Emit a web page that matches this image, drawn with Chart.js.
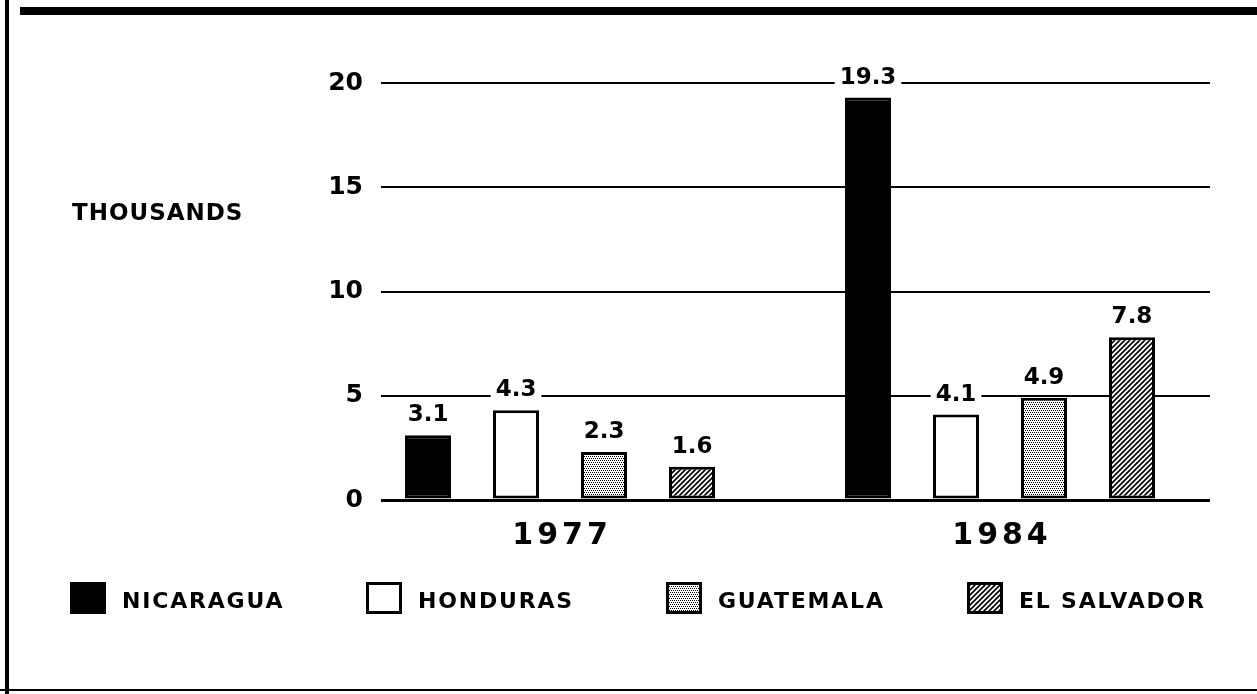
<!DOCTYPE html>
<html>
<head>
<meta charset="utf-8">
<script src="https://cdn.jsdelivr.net/npm/chart.js@4"></script>
<style>
  html, body { margin: 0; padding: 0; background: #fff; }
  canvas { display: block; }
</style>
</head>
<body>
<canvas id="c" width="1257" height="694"></canvas>
<script>
// ---------- data ----------
const categories = ['1977', '1984'];
const seriesNames = ['NICARAGUA', 'HONDURAS', 'GUATEMALA', 'EL SALVADOR'];
const nicaragua  = [3.1, 19.3];
const honduras   = [4.3, 4.1];
const guatemala  = [2.3, 4.9];
const elSalvador = [1.6, 7.8];
const yTicks = [0, 5, 10, 15, 20];
const axisTitle = 'THOUSANDS';

// ---------- layout / style constants ----------
const FONT = '"DejaVu Sans", sans-serif';
const LAYOUT = {
  legendBoxX: [70, 366, 666, 967],
  legendBoxY: 582, boxW: 36, boxH: 32, textGap: 16, legendBaseline: 608,
  titleX: 72, titleBaseline: 220,
  xMin: 1974.152, xMax: 1987.341
};

function stipplePattern() {
  const c = document.createElement('canvas'); c.width = 4; c.height = 4;
  const g = c.getContext('2d');
  g.fillStyle = '#fff'; g.fillRect(0, 0, 4, 4);
  g.fillStyle = '#000';
  [[0,0],[2,0],[1,2],[3,2]].forEach(([x, y]) => g.fillRect(x, y, 1, 1));
  return g.createPattern(c, 'repeat');
}
function hatchPattern() {
  const s = 5;
  const c = document.createElement('canvas'); c.width = s; c.height = s;
  const g = c.getContext('2d');
  g.fillStyle = '#fff'; g.fillRect(0, 0, s, s);
  g.strokeStyle = '#000'; g.lineWidth = 1.7;
  g.beginPath();
  g.moveTo(-1, s + 1); g.lineTo(s + 1, -1);
  g.moveTo(-1, 1); g.lineTo(1, -1);
  g.moveTo(s - 1, s + 1); g.lineTo(s + 1, s - 1);
  g.stroke();
  return g.createPattern(c, 'repeat');
}

const fills = ['#000', '#fff', stipplePattern(), hatchPattern()];
const seriesValues = [nicaragua, honduras, guatemala, elSalvador];
const years = categories.map(Number);

const datasets = seriesNames.map((name, si) => ({
  label: name,
  data: seriesValues[si].map((v, i) => ({ x: years[i], y: v })),
  backgroundColor: fills[si],
  borderColor: '#000',
  borderWidth: 3,
  borderSkipped: false,
  categoryPercentage: 0.8,
  barPercentage: 0.523
}));

const decor = {
  id: 'decor',
  beforeDraw(chart) {
    const ctx = chart.ctx;
    ctx.save();
    ctx.fillStyle = '#fff';
    ctx.fillRect(0, 0, chart.width, chart.height);
    ctx.restore();
  },
  afterLayout(chart) {
    const s = chart.scales.x;
    if (!s.__ls) {
      const orig = s.drawLabels;
      s.drawLabels = function (a) {
        const c = this.ctx; c.save(); c.letterSpacing = '4px';
        c.translate(2, 0);
        orig.call(this, a); c.restore();
      };
      s.__ls = true;
    }
  },
  afterDatasetsDraw(chart) {
    const ctx = chart.ctx;
    ctx.save();
    ctx.font = `bold 23px ${FONT}`;
    ctx.textAlign = 'center';
    ctx.textBaseline = 'alphabetic';
    chart.data.datasets.forEach((ds, di) => {
      const meta = chart.getDatasetMeta(di);
      meta.data.forEach((bar, i) => {
        const txt = ds.data[i].y.toFixed(1);
        const w = ctx.measureText(txt).width;
        const base = bar.y - 14;
        ctx.fillStyle = '#fff';
        ctx.fillRect(bar.x - w / 2 - 5, base - 20, w + 10, 25);
        ctx.fillStyle = '#000';
        ctx.fillText(txt, bar.x, base);
      });
    });
    ctx.restore();
  },
  afterDraw(chart) {
    const ctx = chart.ctx;
    ctx.save();
    // frame
    ctx.fillStyle = '#000';
    ctx.fillRect(20, 7, chart.width - 20, 8);
    ctx.fillRect(5, 0, 4, chart.height);
    ctx.fillRect(0, 689, chart.width, 2);
    // axis title
    ctx.font = `bold 23px ${FONT}`;
    ctx.letterSpacing = '1px';
    ctx.textAlign = 'left';
    ctx.textBaseline = 'alphabetic';
    ctx.fillText(axisTitle, LAYOUT.titleX, LAYOUT.titleBaseline);
    // legend
    ctx.font = `bold 22px ${FONT}`;
    ctx.letterSpacing = '1.8px';
    seriesNames.forEach((name, i) => {
      const x = LAYOUT.legendBoxX[i], y = LAYOUT.legendBoxY;
      ctx.fillStyle = fills[i];
      ctx.fillRect(x, y, LAYOUT.boxW, LAYOUT.boxH);
      ctx.strokeStyle = '#000'; ctx.lineWidth = 3;
      ctx.strokeRect(x + 1.5, y + 1.5, LAYOUT.boxW - 3, LAYOUT.boxH - 3);
      ctx.fillStyle = '#000';
      ctx.fillText(name, x + LAYOUT.boxW + LAYOUT.textGap, LAYOUT.legendBaseline);
    });
    ctx.restore();
  }
};

new Chart(document.getElementById('c'), {
  type: 'bar',
  data: { datasets },
  options: {
    responsive: false,
    animation: false,
    devicePixelRatio: 1,
    layout: { padding: { top: 83, right: 47, left: 0, bottom: 0 } },
    plugins: { legend: { display: false }, tooltip: { enabled: false } },
    scales: {
      x: {
        type: 'linear',
        offset: false,
        bounds: 'data',
        min: LAYOUT.xMin, max: LAYOUT.xMax,
        afterBuildTicks(scale) { scale.ticks = years.map(v => ({ value: v })); },
        afterFit(scale) { scale.height = 194; },
        grid: { display: false, drawTicks: false, offset: false },
        border: { display: false },
        ticks: {
          autoSkip: false, maxRotation: 0, minRotation: 0,
          padding: 21,
          color: '#000',
          font: { family: FONT, weight: 'bold', size: 30, lineHeight: 1 },
          callback: (v) => categories[years.indexOf(v)] ?? ''
        }
      },
      y: {
        min: 0, max: 20,
        afterBuildTicks(scale) { scale.ticks = yTicks.map(v => ({ value: v })); },
        afterFit(scale) { scale.width = 381; },
        grid: {
          color: '#000',
          lineWidth: (c) => (c.tick && c.tick.value === 0 ? 3 : 2),
          drawTicks: false
        },
        border: { display: false },
        ticks: {
          padding: 18,
          color: '#000',
          font: { family: FONT, weight: 'bold', size: 25, lineHeight: 1 }
        }
      }
    }
  },
  plugins: [decor]
});
</script>
</body>
</html>
